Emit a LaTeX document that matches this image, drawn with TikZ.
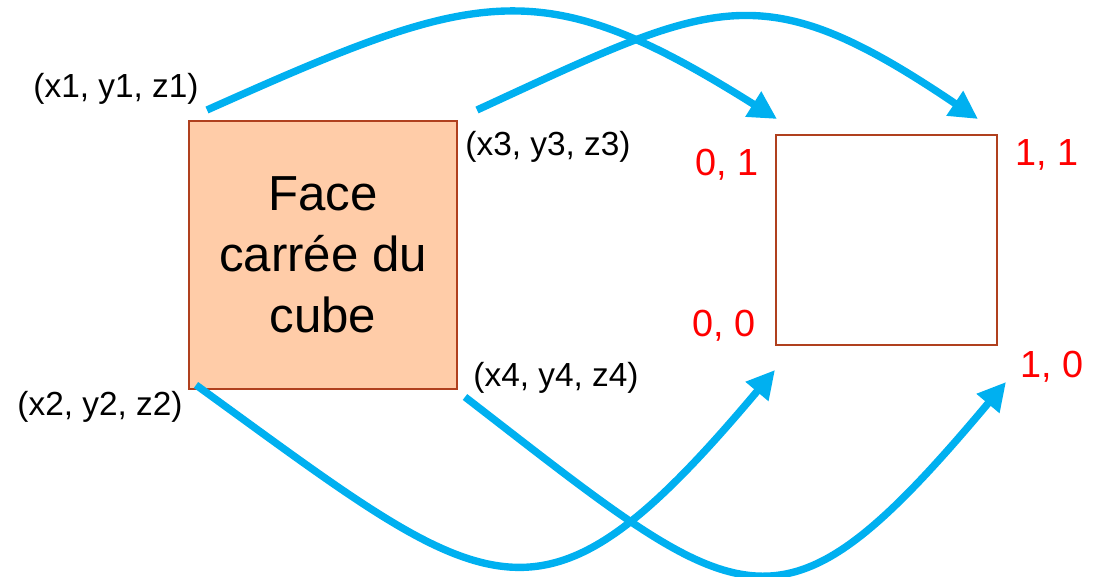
\documentclass[tikz,border=0pt]{standalone}
\usepackage{fontspec}
\setmainfont{Liberation Sans}
\usetikzlibrary{arrows.meta,positioning}

\definecolor{bleufleche}{HTML}{00B0F0}
\definecolor{peche}{HTML}{FFCCA8}
\definecolor{brique}{HTML}{B0401E}

\tikzset{
  coin/.style={font=\fontsize{19}{21}\selectfont,inner sep=0pt},
  uv/.style={font=\fontsize{21.5}{24}\selectfont,text=red,inner sep=0pt},
  fleche/.style={-{Triangle[length=16pt,width=16pt]},line width=4.2pt,draw=bleufleche},
}

\begin{document}
\begin{tikzpicture}[x=0.02cm,y=-0.02cm]
  \useasboundingbox (0,0) rectangle (1099,577);

  % face du cube et carre de texture
  \node[draw=brique,line width=1.3pt,fill=peche,minimum width=5.36cm,minimum height=5.36cm,
        align=center,font=\fontsize{28}{34.6}\selectfont] (face) at (323,255)
       {Face\\carrée du\\cube};
  \node[draw=brique,line width=1.3pt,minimum width=4.42cm,minimum height=4.2cm] (tex) at (886.5,240) {};

  % sommets
  \node[coin] (p1) at (116,89) {(x1, y1, z1)};
  \node[coin] (p3) at (548,147) {(x3, y3, z3)};
  \node[coin] (p2) at (100,407) {(x2, y2, z2)};
  \node[coin] (p4) at (556,378) {(x4, y4, z4)};

  \node[uv] (t01) at (727,165) {0, 1};
  \node[uv] (t11) at (1047,155) {1, 1};
  \node[uv] (t00) at (724,326) {0, 0};
  \node[uv] (t10) at (1052,367) {1, 0};

  \coordinate (s1) at (207,110);
  \coordinate (s3) at (477,110);
  \coordinate (s2) at (196,385);
  \coordinate (s4) at (465,397);
  \coordinate (e1) at (777,119);
  \coordinate (e3) at (978,119);
  \coordinate (e2) at (775,370);
  \coordinate (e4) at (1006,382);

  \draw[fleche] (s1) .. controls (480,-12) and (540,-30) .. (e1);
  \draw[fleche] (s3) .. controls (716,0) and (759,-29) .. (e3);
  \draw[fleche] (s2) .. controls (494,601) and (538,652) .. (e2);
  \draw[fleche] (s4) .. controls (746,614) and (777,655) .. (e4);
\end{tikzpicture}
\end{document}
